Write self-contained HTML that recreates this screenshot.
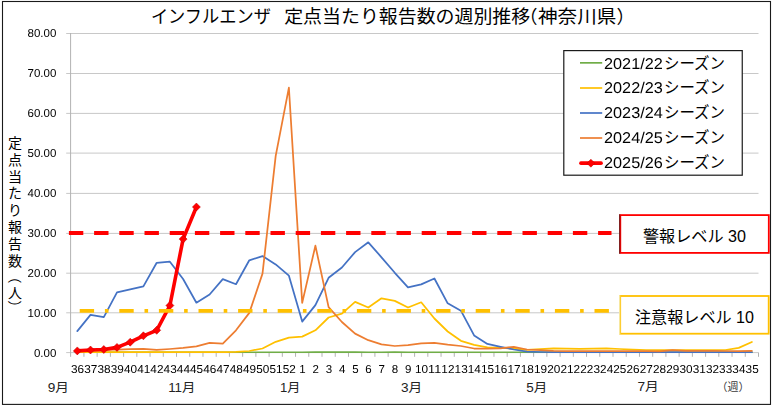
<!DOCTYPE html>
<html lang="ja">
<head>
<meta charset="utf-8">
<title>インフルエンザ 定点当たり報告数の週別推移（神奈川県）</title>
<style>
html,body{margin:0;padding:0;background:#fff;}
body{width:774px;height:406px;overflow:hidden;font-family:"Liberation Sans",sans-serif;}
svg{display:block;}
</style>
</head>
<body>
<svg width="774" height="406" viewBox="0 0 774 406" role="img" aria-label="インフルエンザ 定点当たり報告数の週別推移（神奈川県）">
<title>インフルエンザ 定点当たり報告数の週別推移（神奈川県）</title>
<defs><filter id="gs" x="0" y="0" width="774" height="406" filterUnits="userSpaceOnUse" color-interpolation-filters="sRGB"><feColorMatrix type="saturate" values="0"/></filter></defs>
<clipPath id="pc"><rect x="66" y="30" width="694" height="322.95"/></clipPath>
<rect x="0" y="0" width="774" height="406" fill="#fff"/>
<rect x="2.5" y="1.5" width="768" height="402.9" fill="none" stroke="#1a1a1a" stroke-width="1.1"/>
<g id="axes">
<path d="M66.2 33.50H758.5M66.2 73.50H758.5M66.2 113.40H758.5M66.2 153.10H758.5M66.2 193.40H758.5M66.2 233.40H758.5M66.2 273.20H758.5M66.2 312.80H758.5M66.2 352.60H758.5" stroke="#c8c8c8" stroke-width="1" fill="none"/>
<path d="M70.6 33V356.8M83.93 352.6V356.8M97.15 352.6V356.8M110.38 352.6V356.8M123.61 352.6V356.8M136.84 352.6V356.8M150.06 352.6V356.8M163.29 352.6V356.8M176.52 352.6V356.8M189.74 352.6V356.8M202.97 352.6V356.8M216.20 352.6V356.8M229.42 352.6V356.8M242.65 352.6V356.8M255.88 352.6V356.8M269.11 352.6V356.8M282.33 352.6V356.8M295.56 352.6V356.8M308.79 352.6V356.8M322.01 352.6V356.8M335.24 352.6V356.8M348.47 352.6V356.8M361.69 352.6V356.8M374.92 352.6V356.8M388.15 352.6V356.8M401.38 352.6V356.8M414.60 352.6V356.8M427.83 352.6V356.8M441.06 352.6V356.8M454.28 352.6V356.8M467.51 352.6V356.8M480.74 352.6V356.8M493.96 352.6V356.8M507.19 352.6V356.8M520.42 352.6V356.8M533.64 352.6V356.8M546.87 352.6V356.8M560.10 352.6V356.8M573.33 352.6V356.8M586.55 352.6V356.8M599.78 352.6V356.8M613.01 352.6V356.8M626.23 352.6V356.8M639.46 352.6V356.8M652.69 352.6V356.8M665.92 352.6V356.8M679.14 352.6V356.8M692.37 352.6V356.8M705.60 352.6V356.8M718.82 352.6V356.8M732.05 352.6V356.8M745.28 352.6V356.8M758.50 352.6V356.8" stroke="#b2b2b2" stroke-width="1" fill="none"/>
</g>
<g id="series">
<polyline points="77.3,352.4 90.5,352.4 103.8,352.4 117.0,352.4 130.2,352.4 143.4,352.4 156.7,352.4 169.9,352.4 183.1,352.4 196.4,352.4 209.6,352.4 222.8,352.4 236.0,352.4 249.3,352.4 262.5,352.4 275.7,352.4 288.9,352.4 302.2,352.4 315.4,352.1 328.6,352.1 341.9,352.1 355.1,352.1 368.3,352.4 381.5,352.4 394.8,352.1 408.0,352.4 421.2,352.4 434.4,352.4 447.7,352.4 460.9,352.4 474.1,352.4 487.4,352.4 500.6,352.4 513.8,352.4 527.0,352.4 540.3,352.4 553.5,352.4 566.7,352.4 579.9,352.4 593.2,352.4 606.4,352.4 619.6,352.4 632.8,352.4 646.1,352.4 659.3,352.4 672.5,352.4 685.8,352.4 699.0,352.4 712.2,352.4 725.4,352.4 738.7,352.4 751.9,352.4" fill="none" stroke="#70ad47" stroke-width="1.75" stroke-linejoin="round" stroke-linecap="round" clip-path="url(#pc)"/>
<polyline points="77.3,352.2 90.5,352.2 103.8,352.2 117.0,352.2 130.2,352.2 143.4,352.2 156.7,352.2 169.9,352.2 183.1,352.2 196.4,352.2 209.6,352.2 222.8,352.2 236.0,351.8 249.3,351.0 262.5,348.5 275.7,341.8 288.9,337.7 302.2,336.6 315.4,330.3 328.6,317.5 341.9,313.7 355.1,301.9 368.3,307.5 381.5,298.3 394.8,300.9 408.0,307.5 421.2,302.3 434.4,318.5 447.7,331.5 460.9,340.8 474.1,344.9 487.4,347.4 500.6,347.9 513.8,348.6 527.0,349.8 540.3,349.2 553.5,348.4 566.7,348.6 579.9,348.8 593.2,348.6 606.4,348.4 619.6,349.0 632.8,349.6 646.1,350.0 659.3,350.2 672.5,350.2 685.8,350.2 699.0,350.2 712.2,350.2 725.4,350.0 738.7,347.9 751.9,342.0" fill="none" stroke="#ffc000" stroke-width="1.75" stroke-linejoin="round" stroke-linecap="round" clip-path="url(#pc)"/>
<polyline points="77.3,331.1 90.5,314.9 103.8,317.1 117.0,292.4 130.2,289.4 143.4,286.4 156.7,262.8 169.9,261.7 183.1,279.0 196.4,302.7 209.6,294.5 222.8,279.1 236.0,284.2 249.3,260.3 262.5,256.1 275.7,264.4 288.9,275.7 302.2,321.6 315.4,305.1 328.6,277.8 341.9,267.5 355.1,252.1 368.3,242.3 381.5,257.3 394.8,272.8 408.0,287.4 421.2,284.4 434.4,278.5 447.7,303.3 460.9,310.7 474.1,335.4 487.4,343.9 500.6,346.8 513.8,349.5 527.0,351.7 540.3,352.0 553.5,352.1 566.7,352.1 579.9,352.1 593.2,352.1 606.4,352.1 619.6,352.1 632.8,352.1 646.1,352.1 659.3,352.1 672.5,352.1 685.8,352.1 699.0,352.1 712.2,352.1 725.4,352.1 738.7,352.1 751.9,352.1" fill="none" stroke="#4472c4" stroke-width="1.75" stroke-linejoin="round" stroke-linecap="round" clip-path="url(#pc)"/>
<polyline points="77.3,350.8 90.5,350.4 103.8,350.0 117.0,349.6 130.2,349.2 143.4,348.8 156.7,349.9 169.9,349.0 183.1,347.9 196.4,346.3 209.6,342.8 222.8,343.6 236.0,330.3 249.3,312.9 262.5,273.6 275.7,155.9 288.9,87.7 302.2,302.9 315.4,245.7 328.6,307.1 341.9,322.0 355.1,333.6 368.3,340.2 381.5,344.3 394.8,346.0 408.0,345.1 421.2,343.3 434.4,342.9 447.7,344.7 460.9,346.0 474.1,348.5 487.4,348.5 500.6,348.3 513.8,346.8 527.0,349.5 540.3,350.2 553.5,350.8 566.7,351.1 579.9,351.2 593.2,351.2 606.4,351.2 619.6,351.2 632.8,351.2 646.1,351.2 659.3,351.3 672.5,350.1 685.8,350.8 699.0,350.8 712.2,350.8 725.4,351.0 738.7,351.0 751.9,350.8" fill="none" stroke="#ed7d31" stroke-width="1.75" stroke-linejoin="round" stroke-linecap="round" clip-path="url(#pc)"/>
<polyline points="77.3,350.9 90.5,350.0 103.8,349.5 117.0,347.4 130.2,342.2 143.4,335.8 156.7,330.3 169.9,305.5 183.1,239.1 196.4,207.0" fill="none" stroke="#ff0000" stroke-width="3.6" stroke-linejoin="round" stroke-linecap="round"/>
<path d="M77.3 346.9l4 4l-4 4l-4 -4zM90.5 346.0l4 4l-4 4l-4 -4zM103.8 345.5l4 4l-4 4l-4 -4zM117.0 343.4l4 4l-4 4l-4 -4zM130.2 338.2l4 4l-4 4l-4 -4zM143.4 331.8l4 4l-4 4l-4 -4zM156.7 326.3l4 4l-4 4l-4 -4zM169.9 301.5l4 4l-4 4l-4 -4zM183.1 235.1l4 4l-4 4l-4 -4zM196.4 203.0l4 4l-4 4l-4 -4z" fill="#ff0000" stroke="#c00000" stroke-width="0.5"/>
</g>
<g id="thresholds">
<path d="M68.9 233H611.5" stroke="#ff0000" stroke-width="4" stroke-dasharray="14.4 10.8" fill="none"/>
<path d="M79.7 310.9H612" stroke="#ffc000" stroke-width="3.7" stroke-dasharray="14.4 10.8 3.6 10.8" fill="none"/>
<rect x="620.3" y="215.1" width="148.5" height="37.8" fill="#fff" stroke="#ff0000" stroke-width="1.8"/>
<path d="M619.7 214.2V253.8" stroke="#6b1414" stroke-width="1.1"/>
<rect x="620.2" y="296" width="148.5" height="37.7" fill="#fff" stroke="#ffc000" stroke-width="1.8"/>
<path d="M619.7 295.2V334.5" stroke="#f7e9a8" stroke-width="1.2"/>
</g>
<g id="legend-box">
<rect x="563.8" y="50.6" width="178.45" height="124.6" fill="#fff" stroke="#1a1a1a" stroke-width="1.2"/>
<path d="M580 62.85H602.2" stroke="#70ad47" stroke-width="1.7"/>
<path d="M580 88.00H602.2" stroke="#ffc000" stroke-width="1.7"/>
<path d="M580 113.00H602.2" stroke="#4472c4" stroke-width="1.7"/>
<path d="M580 138.00H602.2" stroke="#ed7d31" stroke-width="1.7"/>
<path d="M580.9 163.15H601.1" stroke="#ff0000" stroke-width="3.6" stroke-linecap="round"/>
<path d="M590.9 159.2l4 4l-4 4l-4 -4z" fill="#ff0000" stroke="#c00000" stroke-width="0.5"/>
</g>
<g font-family="'Liberation Sans', sans-serif" fill="#000" filter="url(#gs)" text-rendering="geometricPrecision">
<text x="56.3" y="37.4" font-size="11.5" text-anchor="end">80.00</text>
<text x="56.3" y="77.4" font-size="11.5" text-anchor="end">70.00</text>
<text x="56.3" y="117.3" font-size="11.5" text-anchor="end">60.00</text>
<text x="56.3" y="157.0" font-size="11.5" text-anchor="end">50.00</text>
<text x="56.3" y="197.3" font-size="11.5" text-anchor="end">40.00</text>
<text x="56.3" y="237.3" font-size="11.5" text-anchor="end">30.00</text>
<text x="56.3" y="277.1" font-size="11.5" text-anchor="end">20.00</text>
<text x="56.3" y="316.7" font-size="11.5" text-anchor="end">10.00</text>
<text x="56.3" y="356.5" font-size="11.5" text-anchor="end">0.00</text>
<text x="71.01" y="372.8" font-size="11.5" textLength="13.1" lengthAdjust="spacingAndGlyphs">36</text>
<text x="84.24" y="372.8" font-size="11.5" textLength="13.1" lengthAdjust="spacingAndGlyphs">37</text>
<text x="97.47" y="372.8" font-size="11.5" textLength="13.1" lengthAdjust="spacingAndGlyphs">38</text>
<text x="110.69" y="372.8" font-size="11.5" textLength="13.1" lengthAdjust="spacingAndGlyphs">39</text>
<text x="123.92" y="372.8" font-size="11.5" textLength="13.1" lengthAdjust="spacingAndGlyphs">40</text>
<text x="137.15" y="372.8" font-size="11.5" textLength="13.1" lengthAdjust="spacingAndGlyphs">41</text>
<text x="150.38" y="372.8" font-size="11.5" textLength="13.1" lengthAdjust="spacingAndGlyphs">42</text>
<text x="163.60" y="372.8" font-size="11.5" textLength="13.1" lengthAdjust="spacingAndGlyphs">43</text>
<text x="176.83" y="372.8" font-size="11.5" textLength="13.1" lengthAdjust="spacingAndGlyphs">44</text>
<text x="190.06" y="372.8" font-size="11.5" textLength="13.1" lengthAdjust="spacingAndGlyphs">45</text>
<text x="203.28" y="372.8" font-size="11.5" textLength="13.1" lengthAdjust="spacingAndGlyphs">46</text>
<text x="216.51" y="372.8" font-size="11.5" textLength="13.1" lengthAdjust="spacingAndGlyphs">47</text>
<text x="229.74" y="372.8" font-size="11.5" textLength="13.1" lengthAdjust="spacingAndGlyphs">48</text>
<text x="242.96" y="372.8" font-size="11.5" textLength="13.1" lengthAdjust="spacingAndGlyphs">49</text>
<text x="256.19" y="372.8" font-size="11.5" textLength="13.1" lengthAdjust="spacingAndGlyphs">50</text>
<text x="269.42" y="372.8" font-size="11.5" textLength="13.1" lengthAdjust="spacingAndGlyphs">51</text>
<text x="282.65" y="372.8" font-size="11.5" textLength="13.1" lengthAdjust="spacingAndGlyphs">52</text>
<text x="302.42" y="372.8" font-size="11.5" text-anchor="middle">1</text>
<text x="315.65" y="372.8" font-size="11.5" text-anchor="middle">2</text>
<text x="328.88" y="372.8" font-size="11.5" text-anchor="middle">3</text>
<text x="342.10" y="372.8" font-size="11.5" text-anchor="middle">4</text>
<text x="355.33" y="372.8" font-size="11.5" text-anchor="middle">5</text>
<text x="368.56" y="372.8" font-size="11.5" text-anchor="middle">6</text>
<text x="381.78" y="372.8" font-size="11.5" text-anchor="middle">7</text>
<text x="395.01" y="372.8" font-size="11.5" text-anchor="middle">8</text>
<text x="408.24" y="372.8" font-size="11.5" text-anchor="middle">9</text>
<text x="414.92" y="372.8" font-size="11.5" textLength="13.1" lengthAdjust="spacingAndGlyphs">10</text>
<text x="428.14" y="372.8" font-size="11.5" textLength="13.1" lengthAdjust="spacingAndGlyphs">11</text>
<text x="441.37" y="372.8" font-size="11.5" textLength="13.1" lengthAdjust="spacingAndGlyphs">12</text>
<text x="454.60" y="372.8" font-size="11.5" textLength="13.1" lengthAdjust="spacingAndGlyphs">13</text>
<text x="467.82" y="372.8" font-size="11.5" textLength="13.1" lengthAdjust="spacingAndGlyphs">14</text>
<text x="481.05" y="372.8" font-size="11.5" textLength="13.1" lengthAdjust="spacingAndGlyphs">15</text>
<text x="494.28" y="372.8" font-size="11.5" textLength="13.1" lengthAdjust="spacingAndGlyphs">16</text>
<text x="507.50" y="372.8" font-size="11.5" textLength="13.1" lengthAdjust="spacingAndGlyphs">17</text>
<text x="520.73" y="372.8" font-size="11.5" textLength="13.1" lengthAdjust="spacingAndGlyphs">18</text>
<text x="533.96" y="372.8" font-size="11.5" textLength="13.1" lengthAdjust="spacingAndGlyphs">19</text>
<text x="547.19" y="372.8" font-size="11.5" textLength="13.1" lengthAdjust="spacingAndGlyphs">20</text>
<text x="560.41" y="372.8" font-size="11.5" textLength="13.1" lengthAdjust="spacingAndGlyphs">21</text>
<text x="573.64" y="372.8" font-size="11.5" textLength="13.1" lengthAdjust="spacingAndGlyphs">22</text>
<text x="586.87" y="372.8" font-size="11.5" textLength="13.1" lengthAdjust="spacingAndGlyphs">23</text>
<text x="600.09" y="372.8" font-size="11.5" textLength="13.1" lengthAdjust="spacingAndGlyphs">24</text>
<text x="613.32" y="372.8" font-size="11.5" textLength="13.1" lengthAdjust="spacingAndGlyphs">25</text>
<text x="626.55" y="372.8" font-size="11.5" textLength="13.1" lengthAdjust="spacingAndGlyphs">26</text>
<text x="639.77" y="372.8" font-size="11.5" textLength="13.1" lengthAdjust="spacingAndGlyphs">27</text>
<text x="653.00" y="372.8" font-size="11.5" textLength="13.1" lengthAdjust="spacingAndGlyphs">28</text>
<text x="666.23" y="372.8" font-size="11.5" textLength="13.1" lengthAdjust="spacingAndGlyphs">29</text>
<text x="679.46" y="372.8" font-size="11.5" textLength="13.1" lengthAdjust="spacingAndGlyphs">30</text>
<text x="692.68" y="372.8" font-size="11.5" textLength="13.1" lengthAdjust="spacingAndGlyphs">31</text>
<text x="705.91" y="372.8" font-size="11.5" textLength="13.1" lengthAdjust="spacingAndGlyphs">32</text>
<text x="719.14" y="372.8" font-size="11.5" textLength="13.1" lengthAdjust="spacingAndGlyphs">33</text>
<text x="732.36" y="372.8" font-size="11.5" textLength="13.1" lengthAdjust="spacingAndGlyphs">34</text>
<text x="745.59" y="372.8" font-size="11.5" textLength="13.1" lengthAdjust="spacingAndGlyphs">35</text>
<text x="604" y="68.6" font-size="15.6" textLength="58.8" lengthAdjust="spacingAndGlyphs">2021/22</text>
<text x="604" y="93.2" font-size="15.6" textLength="58.8" lengthAdjust="spacingAndGlyphs">2022/23</text>
<text x="604" y="118.2" font-size="15.6" textLength="58.8" lengthAdjust="spacingAndGlyphs">2023/24</text>
<text x="604" y="143.2" font-size="15.6" textLength="58.8" lengthAdjust="spacingAndGlyphs">2024/25</text>
<text x="604" y="168.2" font-size="15.6" textLength="58.8" lengthAdjust="spacingAndGlyphs">2025/26</text>
</g>
<g id="jp-text" font-family="'Liberation Sans', 'Noto Sans CJK JP', sans-serif">
<g font-size="18" fill="#000">
<text x="150.9" y="23.2" textLength="120" lengthAdjust="spacingAndGlyphs">インフルエンザ</text>
<text x="284.2" y="23.2" textLength="246" lengthAdjust="spacingAndGlyphs">定点当たり報告数の週別推移</text>
<text x="537.4" y="23.2" text-anchor="end">（</text>
<text x="538" y="23.2" textLength="78.3" lengthAdjust="spacingAndGlyphs">神奈川県</text>
<text x="616.6" y="23.2">）</text>
</g>
<g font-size="15.6" fill="#000">
<text x="664" y="68.6" textLength="61" lengthAdjust="spacingAndGlyphs">シーズン</text>
<text x="664" y="93.2" textLength="61" lengthAdjust="spacingAndGlyphs">シーズン</text>
<text x="664" y="118.2" textLength="61" lengthAdjust="spacingAndGlyphs">シーズン</text>
<text x="664" y="143.2" textLength="61" lengthAdjust="spacingAndGlyphs">シーズン</text>
<text x="664" y="168.2" textLength="61" lengthAdjust="spacingAndGlyphs">シーズン</text>
</g>
<g font-size="14" fill="#000" text-anchor="middle">
<text x="15" y="148.3">定</text>
<text x="15" y="165">点</text>
<text x="15" y="181.8">当</text>
<text x="15" y="198">た</text>
<text x="15" y="215">り</text>
<text x="15" y="232">報</text>
<text x="15" y="249.4">告</text>
<text x="15" y="266.4">数</text>
<text x="15" y="298.3">人</text>
</g>
<g font-size="14" fill="#000">
<text transform="translate(9.7 269.4) rotate(90)" x="0" y="0">（</text>
<text transform="translate(9.7 300.2) rotate(90)" x="0" y="0">）</text>
</g>
<g font-size="12" fill="#222">
<text x="47.8" y="392.2" textLength="21.2" lengthAdjust="spacingAndGlyphs">9月</text>
<text x="168.2" y="392.2" textLength="27.2" lengthAdjust="spacingAndGlyphs">11月</text>
<text x="280" y="392.2" textLength="20.4" lengthAdjust="spacingAndGlyphs">1月</text>
<text x="401" y="392.2" textLength="21.2" lengthAdjust="spacingAndGlyphs">3月</text>
<text x="526.2" y="392.2" textLength="21" lengthAdjust="spacingAndGlyphs">5月</text>
<text x="637.4" y="391" textLength="21.3" lengthAdjust="spacingAndGlyphs">7月</text>
</g>
<text x="733" y="391" font-size="11" fill="#3a3a3a" text-anchor="middle">（週）</text>
<g font-size="16" fill="#000">
<text x="643" y="242.2" textLength="103" lengthAdjust="spacingAndGlyphs">警報レベル 30</text>
<text x="635" y="323.2" textLength="119" lengthAdjust="spacingAndGlyphs">注意報レベル 10</text>
</g>
</g>
</svg>
</body>
</html>
